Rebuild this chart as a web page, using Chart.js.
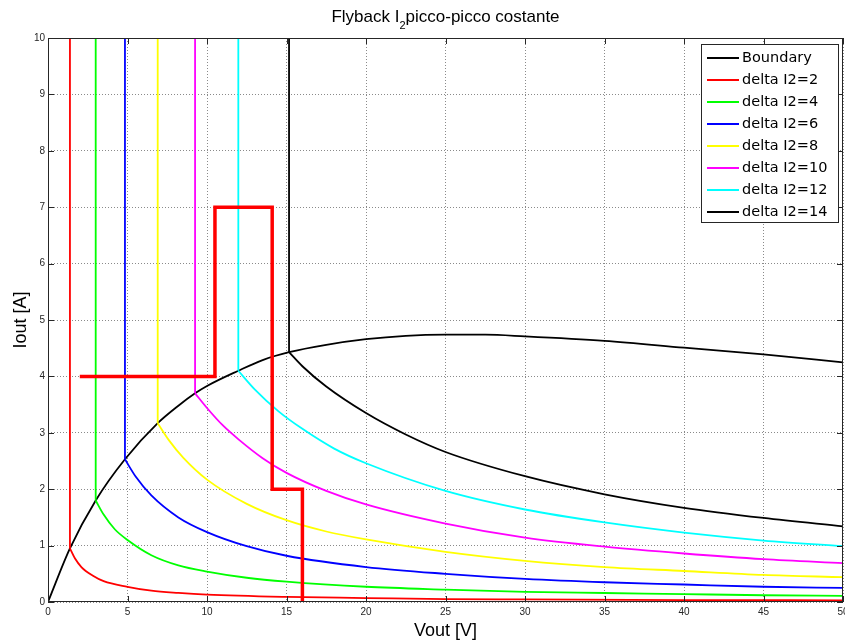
<!DOCTYPE html>
<html>
<head>
<meta charset="utf-8">
<title>Flyback I2 picco-picco costante</title>
<script src="https://cdn.jsdelivr.net/npm/chart.js@4.4.1/dist/chart.umd.min.js"></script>
<style>
  html, body { margin: 0; padding: 0; background: #fff; }
  canvas { display: block; }
</style>
</head>
<body>
<canvas id="flyback" width="845" height="643"></canvas>
<script>
// axis ticks
const xTickValues = [0, 5, 10, 15, 20, 25, 30, 35, 40, 45, 50];
const yTickValues = [0, 1, 2, 3, 4, 5, 6, 7, 8, 9, 10];

// boundary curve, Vout [V] / Iout [A]
const vBoundary = [0, 1.38, 3.0, 4.84, 6.9, 8.2, 9.25, 10, 11.97, 13.5, 15.16, 17.5, 20, 22.5, 25, 27.5, 30, 35, 40, 45, 50];
const iBoundary = [0, 0.95, 1.80, 2.53, 3.17, 3.48, 3.70, 3.83, 4.10, 4.29, 4.43, 4.56, 4.66, 4.72, 4.74, 4.74, 4.71, 4.63, 4.51, 4.39, 4.25];

// constant delta I2 curves, first point is where they leave the vertical
const vD2 = [1.38, 1.7, 2.1, 2.8, 3.5, 5, 6.5, 8.2, 10, 15, 20, 25, 30, 40, 50];
const iD2 = [0.95, 0.77, 0.62, 0.47, 0.37, 0.27, 0.20, 0.16, 0.13, 0.09, 0.07, 0.05, 0.045, 0.035, 0.03];

const vD4 = [3.0, 3.5, 4.2, 5, 6.5, 8.2, 10, 12.5, 15, 20, 25, 30, 35, 40, 45, 50];
const iD4 = [1.80, 1.55, 1.29, 1.10, 0.83, 0.65, 0.54, 0.43, 0.36, 0.27, 0.22, 0.18, 0.16, 0.14, 0.12, 0.11];

const vD6 = [4.84, 5.5, 6.5, 8.2, 10, 12.5, 15, 20, 25, 30, 35, 40, 45, 50];
const iD6 = [2.53, 2.23, 1.89, 1.50, 1.24, 0.99, 0.82, 0.62, 0.50, 0.41, 0.35, 0.31, 0.27, 0.25];

const vD8 = [6.9, 7.6, 8.5, 10, 12.5, 15, 17.5, 20, 25, 30, 35, 40, 45, 50];
const iD8 = [3.17, 2.87, 2.56, 2.17, 1.74, 1.45, 1.25, 1.11, 0.89, 0.73, 0.62, 0.55, 0.48, 0.44];

const vD10 = [9.25, 10, 11, 12, 13.5, 15, 17.5, 20, 25, 30, 35, 40, 45, 50];
const iD10 = [3.70, 3.44, 3.13, 2.88, 2.55, 2.29, 1.97, 1.73, 1.39, 1.14, 0.98, 0.86, 0.76, 0.69];

const vD12 = [11.97, 13, 14.5, 16, 18, 20, 25, 30, 35, 40, 45, 50];
const iD12 = [4.10, 3.77, 3.38, 3.07, 2.72, 2.46, 1.97, 1.64, 1.41, 1.23, 1.09, 0.99];

const vD14 = [15.16, 16, 17.5, 20, 22.5, 25, 30, 35, 40, 45, 50];
const iD14 = [4.43, 4.18, 3.82, 3.35, 2.97, 2.66, 2.23, 1.91, 1.67, 1.49, 1.34];

// operating path (thick red)
const vStep = [2, 10.5, 10.5, 14.1, 14.1, 16, 16];
const iStep = [4, 4, 7, 7, 2, 2, 0];

const yTop = yTickValues[yTickValues.length - 1];

const pts = (xs, ys) => xs.map((x, k) => ({ x: x, y: ys[k] }));

const series = [
  { label: 'delta I2=2',  v: vD2,  i: iD2,  color: '#ff0000' },
  { label: 'delta I2=4',  v: vD4,  i: iD4,  color: '#00ff00' },
  { label: 'delta I2=6',  v: vD6,  i: iD6,  color: '#0000ff' },
  { label: 'delta I2=8',  v: vD8,  i: iD8,  color: '#ffff00' },
  { label: 'delta I2=10', v: vD10, i: iD10, color: '#ff00ff' },
  { label: 'delta I2=12', v: vD12, i: iD12, color: '#00ffff' },
  { label: 'delta I2=14', v: vD14, i: iD14, color: '#000000' }
];

const legendItems = [{ label: 'Boundary', color: '#000000' }].concat(series);

const lineW = 1.8;
const datasets = [];

datasets.push({
  label: 'step', data: pts(vStep, iStep), borderColor: '#ff0000',
  borderWidth: 3.5, tension: 0, order: 0
});
datasets.push({
  label: 'Boundary', data: pts(vBoundary, iBoundary), borderColor: '#000000',
  borderWidth: lineW, cubicInterpolationMode: 'monotone', order: 2
});
series.forEach(s => {
  // vertical part down to the boundary
  datasets.push({
    label: s.label + ' v', data: [{ x: s.v[0], y: yTop }, { x: s.v[0], y: s.i[0] }],
    borderColor: s.color, borderWidth: lineW, tension: 0, order: 1
  });
  // decaying part
  datasets.push({
    label: s.label, data: pts(s.v, s.i), borderColor: s.color,
    borderWidth: lineW, cubicInterpolationMode: 'monotone', order: 1
  });
});

const tickFont = { family: 'Liberation Sans', size: 10 };

const decor = {
  id: 'decor',
  afterDraw(chart) {
    const ctx = chart.ctx;
    const a = chart.chartArea;
    const xs = chart.scales.x, ys = chart.scales.y;
    ctx.save();

    // frame and inward ticks
    ctx.strokeStyle = '#262626';
    ctx.lineWidth = 1;
    ctx.strokeRect(Math.round(a.left) + 0.5, Math.round(a.top) + 0.5,
                   Math.round(a.right - a.left) - 1, Math.round(a.bottom - a.top) - 1);
    const tl = 6;
    ctx.beginPath();
    xTickValues.forEach(v => {
      const px = Math.round(xs.getPixelForValue(v)) + 0.5;
      ctx.moveTo(px, a.bottom); ctx.lineTo(px, a.bottom - tl);
      ctx.moveTo(px, a.top); ctx.lineTo(px, a.top + tl);
    });
    yTickValues.forEach(v => {
      const py = Math.round(ys.getPixelForValue(v)) + 0.5;
      ctx.moveTo(a.left, py); ctx.lineTo(a.left + tl, py);
      ctx.moveTo(a.right, py); ctx.lineTo(a.right - tl, py);
    });
    ctx.stroke();

    // title with subscript
    const cx = (a.left + a.right) / 2;
    const big = '17px "Liberation Sans"', small = '11px "Liberation Sans"';
    const p1 = 'Flyback I', p2 = '2', p3 = 'picco-picco costante';
    ctx.fillStyle = '#000';
    ctx.textBaseline = 'alphabetic';
    ctx.textAlign = 'left';
    ctx.font = big;
    const w1 = ctx.measureText(p1).width, w3 = ctx.measureText(p3).width;
    ctx.font = small;
    const w2 = ctx.measureText(p2).width;
    let tx = cx - (w1 + w2 + w3) / 2;
    ctx.font = big;  ctx.fillText(p1, tx, 22); tx += w1;
    ctx.font = small; ctx.fillText(p2, tx, 29); tx += w2;
    ctx.font = big;  ctx.fillText(p3, tx, 22);

    // axis titles
    ctx.font = '18px "Liberation Sans"';
    ctx.textAlign = 'center';
    ctx.fillText('Vout [V]', cx, 636);
    ctx.save();
    ctx.translate(26, (a.top + a.bottom) / 2);
    ctx.rotate(-Math.PI / 2);
    ctx.fillText('Iout [A]', 0, 0);
    ctx.restore();

    // legend box
    const lx = 701, ly = 44, lw = 137, lh = 178, row = 22;
    ctx.fillStyle = '#fff';
    ctx.fillRect(lx, ly, lw, lh);
    ctx.strokeStyle = '#262626';
    ctx.strokeRect(lx + 0.5, ly + 0.5, lw, lh);
    ctx.font = '14.5px "DejaVu Sans"';
    ctx.textAlign = 'left';
    ctx.textBaseline = 'middle';
    legendItems.forEach((it, k) => {
      const y = ly + 14 + k * row;
      ctx.strokeStyle = it.color;
      ctx.lineWidth = 2;
      ctx.beginPath();
      ctx.moveTo(707, y); ctx.lineTo(739, y);
      ctx.stroke();
      ctx.fillStyle = '#000';
      ctx.fillText(it.label, 742, y);
    });
    ctx.restore();
  }
};

new Chart(document.getElementById('flyback'), {
  type: 'scatter',
  data: { datasets: datasets },
  options: {
    responsive: false,
    animation: false,
    devicePixelRatio: 1,
    showLine: true,
    elements: { point: { radius: 0, hoverRadius: 0 } },
    layout: { padding: { top: 38, right: 2, bottom: 0, left: 0 } },
    plugins: { legend: { display: false }, tooltip: { enabled: false } },
    scales: {
      x: {
        type: 'linear', min: 0, max: 50,
        afterBuildTicks: s => { s.ticks = xTickValues.map(v => ({ value: v })); },
        afterFit: s => { s.height = 41; s.paddingLeft = 0; s.paddingRight = 0; },
        grid: { color: '#8a8a8a', lineWidth: 1, drawTicks: false },
        border: { display: false, dash: [1, 2] },
        ticks: { padding: 4, color: '#262626', font: tickFont, maxRotation: 0, autoSkip: false }
      },
      y: {
        type: 'linear', min: 0, max: 10,
        afterBuildTicks: s => { s.ticks = yTickValues.map(v => ({ value: v })); },
        afterFit: s => { s.width = 48; s.paddingTop = 0; s.paddingBottom = 0; },
        grid: { color: '#8a8a8a', lineWidth: 1, drawTicks: false },
        border: { display: false, dash: [1, 2] },
        ticks: { padding: 3, color: '#262626', font: tickFont, autoSkip: false }
      }
    }
  },
  plugins: [decor]
});
</script>
</body>
</html>
